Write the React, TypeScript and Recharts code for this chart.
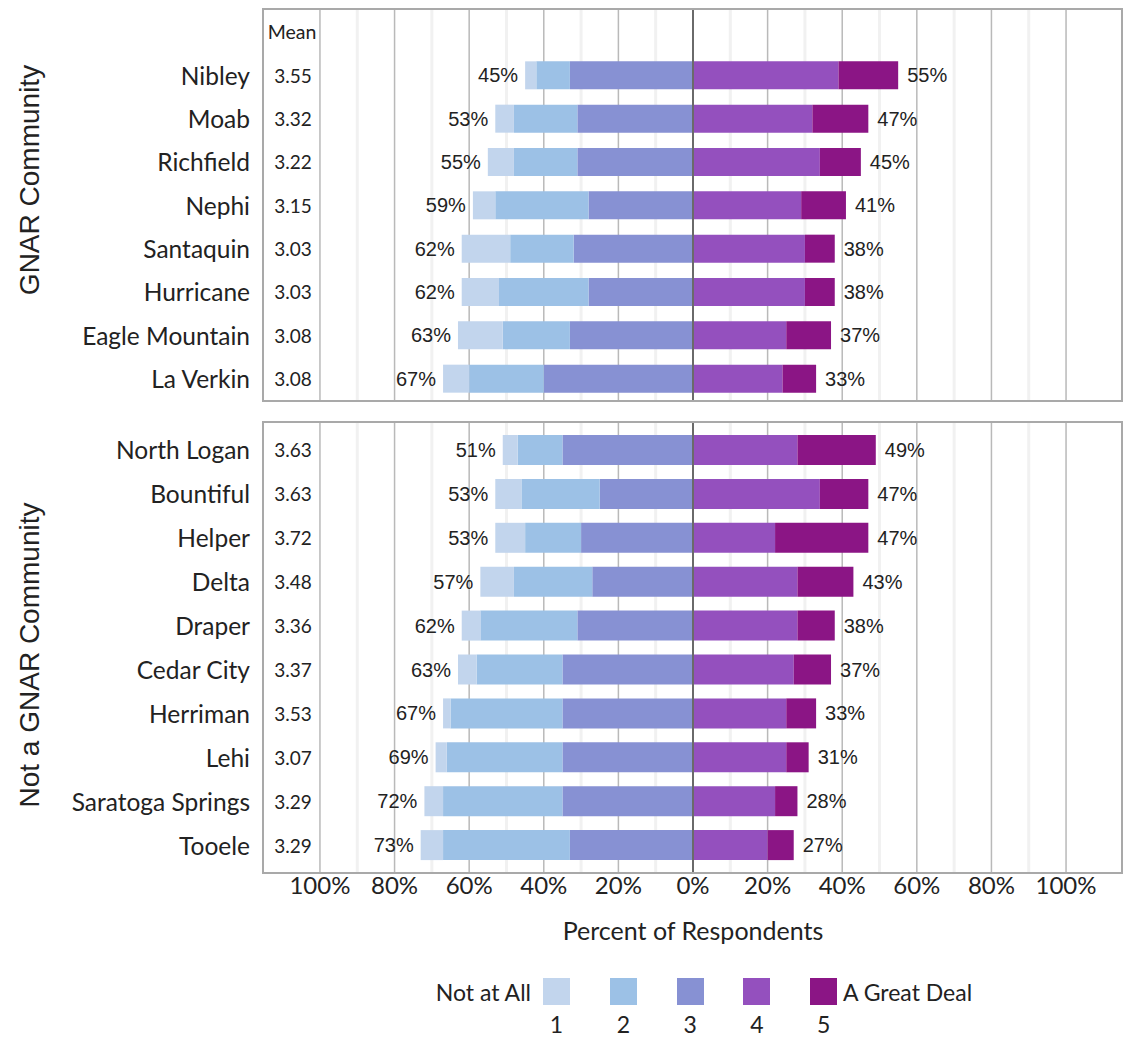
import React from 'react';
import {
  BarChart,
  Bar,
  XAxis,
  YAxis,
  CartesianGrid,
  ReferenceLine,
  LabelList,
} from 'recharts';

// GNAR communities
const gnarNames = ['Nibley', 'Moab', 'Richfield', 'Nephi', 'Santaquin', 'Hurricane', 'Eagle Mountain', 'La Verkin'];
const gnarMeans = ['3.55', '3.32', '3.22', '3.15', '3.03', '3.03', '3.08', '3.08'];
const gnar1 = [3, 5, 7, 6, 13, 10, 12, 7];
const gnar2 = [9, 17, 17, 25, 17, 24, 18, 20];
const gnar3 = [33, 31, 31, 28, 32, 28, 33, 40];
const gnar4 = [39, 32, 34, 29, 30, 30, 25, 24];
const gnar5 = [16, 15, 11, 12, 8, 8, 12, 9];

// not GNAR communities
const otherNames = ['North Logan', 'Bountiful', 'Helper', 'Delta', 'Draper', 'Cedar City', 'Herriman', 'Lehi', 'Saratoga Springs', 'Tooele'];
const otherMeans = ['3.63', '3.63', '3.72', '3.48', '3.36', '3.37', '3.53', '3.07', '3.29', '3.29'];
const other1 = [4, 7, 8, 9, 5, 5, 2, 3, 5, 6];
const other2 = [12, 21, 15, 21, 26, 23, 30, 31, 32, 34];
const other3 = [35, 25, 30, 27, 31, 35, 35, 35, 35, 33];
const other4 = [28, 34, 22, 28, 28, 27, 25, 25, 22, 20];
const other5 = [21, 13, 25, 15, 10, 10, 8, 6, 6, 7];

const xTicks = [-100, -80, -60, -40, -20, 0, 20, 40, 60, 80, 100];
const minorTicks = [-90, -70, -50, -30, -10, 10, 30, 50, 70, 90];
const legendNumbers = ['1', '2', '3', '4', '5'];

const COLORS = {
  s1: '#c2d5ed',
  s2: '#9cc1e6',
  s3: '#8791d3',
  s4: '#9450be',
  s5: '#8b1585',
};
const legendColors = [COLORS.s1, COLORS.s2, COLORS.s3, COLORS.s4, COLORS.s5];

const DOMAIN: [number, number] = [-115, 115];
const TEXT = '#222';

function buildRows(names: string[], means: string[], p1: number[], p2: number[], p3: number[], p4: number[], p5: number[]) {
  return names.map((name, i) => ({
    name,
    mean: means[i],
    s1: -p1[i],
    s2: -p2[i],
    s3: -p3[i],
    s4: p4[i],
    s5: p5[i],
    left: p1[i] + p2[i] + p3[i],
    right: p4[i] + p5[i],
  }));
}

const gnarRows = buildRows(gnarNames, gnarMeans, gnar1, gnar2, gnar3, gnar4, gnar5);
const otherRows = buildRows(otherNames, otherMeans, other1, other2, other3, other4, other5);

function CategoryTick(props: any) {
  const { y, payload, rows, header, rowStep } = props;
  const row = rows.find((r: any) => r.name === payload.value);
  const isFirst = rows[0].name === payload.value;
  return (
    <g>
      <text x={250} y={y} textAnchor="end" dominantBaseline="central" fontFamily="Lato" fontSize={24.5} fill={TEXT}>
        {payload.value}
      </text>
      <text x={293} y={y} textAnchor="middle" dominantBaseline="central" fontFamily="Lato" fontSize={19} fill={TEXT}>
        {row ? row.mean : ''}
      </text>
      {header && isFirst && (
        <text x={292} y={y - rowStep} textAnchor="middle" dominantBaseline="central" fontFamily="Lato" fontSize={19.5} fill={TEXT}>
          Mean
        </text>
      )}
    </g>
  );
}

const renderLeftLabel = (p: any) => {
  const x = Number(p.x);
  const w = Number(p.width);
  const edge = Math.min(x, x + w);
  return (
    <text x={edge - 7} y={Number(p.y) + Number(p.height) / 2} textAnchor="end" dominantBaseline="central"
      fontFamily="Liberation Sans" fontSize={20} fill={TEXT}>
      {p.value}%
    </text>
  );
};

const renderRightLabel = (p: any) => {
  const x = Number(p.x);
  const w = Number(p.width);
  const edge = Math.max(x, x + w);
  return (
    <text x={edge + 9} y={Number(p.y) + Number(p.height) / 2} textAnchor="start" dominantBaseline="central"
      fontFamily="Liberation Sans" fontSize={20} fill={TEXT}>
      {p.value}%
    </text>
  );
};

function series(barSize: number) {
  return [
    <Bar key="s3" dataKey="s3" stackId="a" fill={COLORS.s3} barSize={barSize} isAnimationActive={false} />,
    <Bar key="s2" dataKey="s2" stackId="a" fill={COLORS.s2} barSize={barSize} isAnimationActive={false} />,
    <Bar key="s1" dataKey="s1" stackId="a" fill={COLORS.s1} barSize={barSize} isAnimationActive={false}>
      <LabelList dataKey="left" content={renderLeftLabel} />
    </Bar>,
    <Bar key="s4" dataKey="s4" stackId="a" fill={COLORS.s4} barSize={barSize} isAnimationActive={false} />,
    <Bar key="s5" dataKey="s5" stackId="a" fill={COLORS.s5} barSize={barSize} isAnimationActive={false}>
      <LabelList dataKey="right" content={renderRightLabel} />
    </Bar>,
  ];
}

function grid() {
  return [
    <CartesianGrid key="minor" horizontal={false} verticalValues={minorTicks} stroke="#f1f1f1" strokeWidth={3} />,
    <CartesianGrid key="major" horizontal={false} verticalValues={xTicks} stroke="#b9b9b9" strokeWidth={1.5} />,
  ];
}

const panelBorder = (top: number, height: number): React.CSSProperties => ({
  position: 'absolute',
  left: 262,
  top,
  width: 861,
  height,
  border: '2px solid #a9a9a9',
  boxSizing: 'border-box',
  pointerEvents: 'none',
});

const sideTitle = (cy: number): React.CSSProperties => ({
  position: 'absolute',
  left: 30,
  top: cy,
  transform: 'translate(-50%, -50%) rotate(-90deg)',
  whiteSpace: 'nowrap',
  fontFamily: 'Liberation Sans',
  fontSize: 28,
  color: TEXT,
});

export default function App() {
  const topStep = 390 / 9;
  return (
    <div style={{ position: 'absolute', left: 0, top: 0, width: 1126, height: 1037, background: '#fff' }}>
      <div style={{ position: 'absolute', left: 0, top: 0 }}>
        <BarChart width={1126} height={410} data={gnarRows} layout="vertical" stackOffset="sign"
          margin={{ top: 10, right: 4, bottom: 10, left: 0 }}>
          {grid()}
          <XAxis type="number" domain={DOMAIN} ticks={xTicks} hide allowDataOverflow />
          <YAxis type="category" dataKey="name" width={264} axisLine={false} tickLine={false} interval={0}
            padding={{ top: topStep, bottom: 0 }}
            tick={(p: any) => <CategoryTick {...p} rows={gnarRows} header rowStep={topStep} />} />
          {series(28)}
          <ReferenceLine x={0} stroke="#6a6a6a" strokeWidth={2} />
        </BarChart>
      </div>
      <div style={panelBorder(8, 394)} />

      <div style={{ position: 'absolute', left: 0, top: 423 }}>
        <BarChart width={1126} height={529} data={otherRows} layout="vertical" stackOffset="sign"
          margin={{ top: 0, right: 4, bottom: 0, left: 0 }}>
          {grid()}
          <XAxis type="number" domain={DOMAIN} ticks={xTicks} interval={0} allowDataOverflow
            axisLine={false} tickLine={false} tickSize={0} tickMargin={5} height={80}
            tickFormatter={(v: number) => `${Math.abs(v)}%`}
            tick={{ fontFamily: 'Lato', fontSize: 24, fill: TEXT }}
            label={{ value: 'Percent of Respondents', position: 'insideBottom', offset: 12, fontFamily: 'Lato', fontSize: 25, fill: TEXT }} />
          <YAxis type="category" dataKey="name" width={264} axisLine={false} tickLine={false} interval={0}
            padding={{ top: 5, bottom: 5 }}
            tick={(p: any) => <CategoryTick {...p} rows={otherRows} />} />
          {series(30)}
          <ReferenceLine x={0} stroke="#6a6a6a" strokeWidth={2} />
        </BarChart>
      </div>
      <div style={panelBorder(421, 453)} />

      <div style={sideTitle(180)}>GNAR Community</div>
      <div style={sideTitle(655)}>Not a GNAR Community</div>

      <div style={{ position: 'absolute', left: 0, top: 0, fontFamily: 'Lato', fontSize: 23, color: TEXT }}>
        <div style={{ position: 'absolute', left: 380, width: 151, top: 978, textAlign: 'right', whiteSpace: 'nowrap' }}>Not at All</div>
        {legendNumbers.map((n, i) => (
          <React.Fragment key={n}>
            <div style={{ position: 'absolute', left: 543 + i * 66.8, top: 978, width: 27, height: 27, background: legendColors[i] }} />
            <div style={{ position: 'absolute', left: 543 + i * 66.8, top: 1010, width: 27, textAlign: 'center' }}>{n}</div>
          </React.Fragment>
        ))}
        <div style={{ position: 'absolute', left: 843, top: 978, whiteSpace: 'nowrap' }}>A Great Deal</div>
      </div>
    </div>
  );
}
